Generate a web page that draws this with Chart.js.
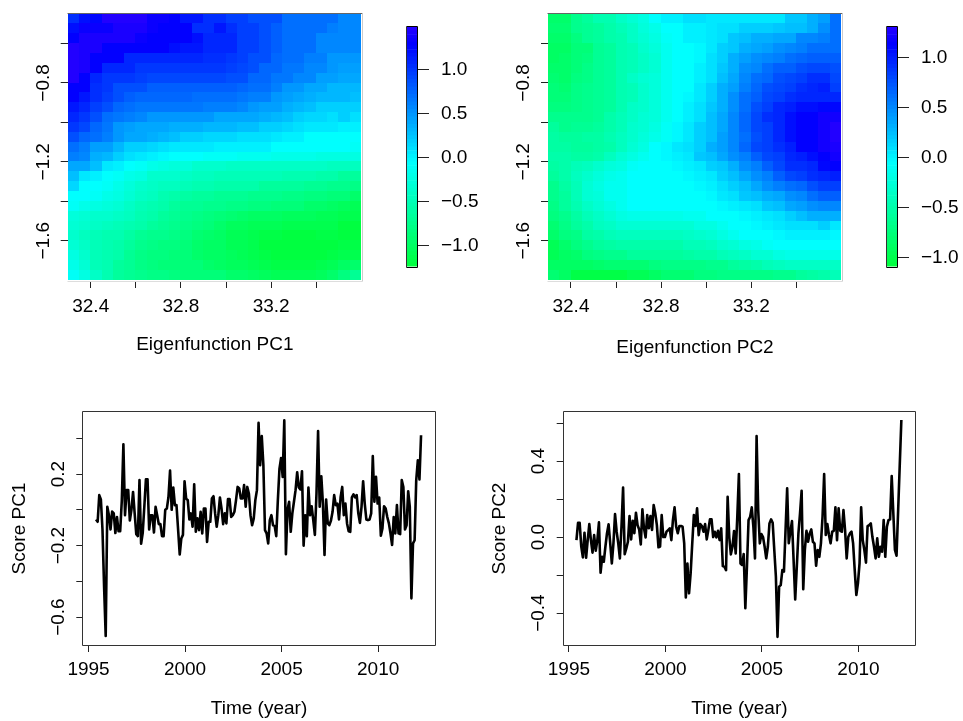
<!DOCTYPE html>
<html><head><meta charset="utf-8">
<style>html,body{margin:0;padding:0;background:#fff}canvas{position:absolute}</style>
<script src="https://cdn.jsdelivr.net/npm/chart.js@4"></script></head><body>
<canvas id="h1" style="left:0;top:0" width="385" height="360"></canvas>
<canvas id="b1" style="left:400px;top:0" width="82" height="290"></canvas>
<canvas id="h2" style="left:484px;top:0" width="380" height="360"></canvas>
<canvas id="b2" style="left:880px;top:0" width="83" height="290"></canvas>
<canvas id="s1" style="left:0;top:361px" width="460" height="360"></canvas>
<canvas id="s2" style="left:484px;top:361px" width="460" height="360"></canvas>
<script>
const lons=[32.323,32.373,32.423,32.473,32.523,32.573,32.623,32.673,32.723,32.773,32.823,32.873,32.923,32.973,33.023,33.073,33.123,33.173,33.223,33.273,33.323,33.373,33.423,33.473,33.523,33.573];
const lats=[-0.473,-0.523,-0.573,-0.623,-0.673,-0.723,-0.773,-0.823,-0.873,-0.923,-0.973,-1.023,-1.073,-1.123,-1.173,-1.223,-1.273,-1.323,-1.373,-1.423,-1.473,-1.523,-1.573,-1.623,-1.673,-1.723,-1.773];
const eigenPC1=[
[1.05,1.2,1.25,1.45,1.45,1.45,1.45,1.35,1.35,1.3,1.15,1.15,1.05,1.05,.95,.95,.85,.85,.85,.7,.7,.7,.7,.7,.55,.55],
[1.2,1.35,1.35,1.35,1.4,1.4,1.4,1.35,1.3,1.3,1.3,1.05,1.05,1.15,1.05,.95,.95,.85,.8,.7,.7,.7,.7,.6,.55,.55],
[1.3,1.4,1.4,1.4,1.4,1.4,1.35,1.3,1.3,1.3,1.3,1.2,1.1,1.1,1.1,.95,.95,.85,.8,.7,.7,.7,.55,.55,.55,.55],
[1.45,1.4,1.4,1.3,1.3,1.3,1.3,1.3,1.3,1.2,1.15,1.15,1.1,1.1,1.1,.95,.95,.85,.8,.7,.7,.7,.55,.55,.55,.55],
[1.45,1.4,1.3,1.3,1.3,1.1,1.1,1.1,1.1,1.1,1.1,1.1,1.05,1.05,1,.95,.85,.85,.75,.7,.7,.6,.6,.5,.5,.5],
[1.45,1.4,1.3,1.1,1.1,1.1,1,1,1,1,1,1,1,1,.95,.9,.85,.75,.75,.65,.65,.55,.55,.5,.45,.45],
[1.45,1.3,1.1,1,1,1,.95,.9,.9,.9,.9,.9,.9,.9,.85,.85,.75,.75,.65,.65,.55,.55,.45,.45,.4,.4],
[1.3,1.3,1.05,1,.85,.85,.85,.8,.8,.8,.8,.8,.8,.8,.8,.75,.7,.7,.6,.5,.5,.4,.4,.3,.3,.3],
[1.3,1.15,1.05,.95,.85,.8,.75,.75,.75,.75,.75,.7,.7,.7,.7,.65,.6,.6,.5,.45,.4,.35,.3,.3,.3,.25],
[1.15,1.1,.95,.85,.75,.7,.65,.65,.65,.65,.65,.65,.6,.6,.6,.55,.5,.45,.45,.35,.3,.25,.2,.2,.2,.2],
[1.1,1,.85,.7,.65,.6,.55,.5,.5,.5,.5,.5,.5,.4,.4,.4,.4,.35,.3,.25,.2,.15,.15,.1,.2,.1],
[1,.9,.75,.65,.5,.45,.4,.4,.4,.35,.35,.35,.3,.3,.3,.25,.25,.2,.2,.15,.1,.05,.05,.05,.02,.02],
[.85,.75,.7,.6,.5,.4,.4,.35,.3,.25,.2,.2,.15,.15,.15,.1,.1,.1,.05,.02,0,-.05,-.05,-.05,-.05,-.05],
[.7,.6,.45,.45,.3,.2,.2,.15,.1,.05,.05,.05,.05,.02,.02,0,0,0,-.05,-.05,-.05,-.05,-.08,-.08,-.08,-.1],
[.6,.55,.35,.3,.2,.1,.05,0,-.03,-.05,-.05,-.05,-.1,-.1,-.12,-.15,-.15,-.15,-.2,-.2,-.2,-.2,-.25,-.25,-.25,-.25],
[.4,.4,.25,.05,0,-.08,-.1,-.2,-.25,-.3,-.3,-.35,-.35,-.35,-.4,-.4,-.4,-.4,-.4,-.4,-.4,-.4,-.4,-.45,-.45,-.45],
[.25,.05,0,-.08,-.1,-.18,-.25,-.35,-.35,-.35,-.4,-.45,-.45,-.5,-.5,-.5,-.5,-.5,-.5,-.55,-.55,-.55,-.6,-.6,-.65,-.65],
[.15,-.05,-.07,-.1,-.2,-.3,-.35,-.4,-.45,-.45,-.5,-.55,-.55,-.6,-.6,-.6,-.6,-.65,-.65,-.65,-.65,-.7,-.7,-.75,-.75,-.8],
[-.05,-.08,-.12,-.2,-.25,-.32,-.42,-.47,-.52,-.58,-.62,-.65,-.68,-.7,-.7,-.7,-.75,-.75,-.75,-.8,-.8,-.85,-.85,-.9,-.9,-.95],
[-.12,-.2,-.22,-.28,-.32,-.4,-.5,-.55,-.6,-.65,-.7,-.7,-.75,-.75,-.8,-.8,-.85,-.85,-.9,-.9,-.9,-.95,-.95,-1,-1.05,-1.1],
[-.27,-.32,-.35,-.38,-.4,-.45,-.55,-.6,-.65,-.7,-.75,-.8,-.85,-.88,-.92,-.95,-1,-1,-1,-1.05,-1.05,-1.05,-1.1,-1.1,-1.15,-1.15],
[-.33,-.38,-.42,-.45,-.5,-.55,-.6,-.65,-.7,-.75,-.8,-.85,-.9,-.95,-1.05,-1.05,-1.1,-1.1,-1.1,-1.15,-1.15,-1.15,-1.15,-1.15,-1.2,-1.2],
[-.38,-.45,-.5,-.55,-.55,-.62,-.72,-.75,-.75,-.8,-.85,-.92,-.98,-1,-1.08,-1.1,-1.15,-1.18,-1.18,-1.2,-1.2,-1.2,-1.18,-1.18,-1.2,-1.2],
[-.32,-.42,-.5,-.55,-.6,-.65,-.75,-.8,-.85,-.85,-.9,-.95,-1,-1,-1.1,-1.1,-1.15,-1.2,-1.22,-1.22,-1.22,-1.22,-1.2,-1.2,-1.18,-1.18],
[-.25,-.38,-.48,-.55,-.6,-.7,-.8,-.85,-.85,-.9,-.9,-.95,-1,-1,-1.05,-1.1,-1.15,-1.18,-1.22,-1.22,-1.22,-1.22,-1.22,-1.18,-1.12,-1.12],
[-.2,-.32,-.48,-.55,-.65,-.7,-.8,-.85,-.9,-.9,-.9,-.9,-.95,-1,-1.05,-1.05,-1.1,-1.15,-1.18,-1.18,-1.18,-1.18,-1.15,-1.1,-1,-.95],
[-.1,-.25,-.42,-.55,-.65,-.7,-.75,-.8,-.8,-.85,-.9,-.9,-.9,-.9,-.95,-.95,-1,-1.05,-1.08,-1.08,-1.08,-1.08,-1.05,-.95,-.85,-.7]
];
const eigenPC2=[
[-.85,-.85,-.68,-.58,-.48,-.48,-.38,-.28,-.2,-.08,0,0,.1,.1,.05,.05,.05,.05,.05,.05,.05,.2,.2,.3,.4,.6],
[-.82,-.82,-.68,-.62,-.58,-.52,-.45,-.35,-.25,-.18,-.08,-.05,0,0,.05,.1,.1,.15,.15,.15,.2,.25,.25,.3,.45,.6],
[-.85,-.85,-.72,-.64,-.6,-.52,-.48,-.38,-.28,-.2,-.1,-.08,0,0,.05,.1,.2,.25,.3,.3,.35,.35,.5,.5,.55,.6],
[-.88,-.88,-.78,-.78,-.62,-.57,-.48,-.42,-.33,-.26,-.15,-.08,-.08,-.03,.05,.15,.2,.3,.35,.4,.45,.5,.55,.6,.6,.6],
[-.88,-.85,-.78,-.75,-.62,-.57,-.48,-.42,-.35,-.28,-.15,-.08,-.08,-.03,.1,.15,.3,.4,.45,.5,.55,.6,.65,.7,.7,.7],
[-.85,-.85,-.78,-.7,-.62,-.57,-.48,-.42,-.35,-.3,-.15,-.08,-.05,0,.1,.2,.3,.45,.5,.6,.7,.7,.75,.8,.8,.75],
[-.82,-.85,-.75,-.7,-.64,-.57,-.48,-.38,-.3,-.25,-.15,-.08,-.05,0,.1,.25,.35,.5,.6,.65,.75,.8,.85,.9,.9,.8],
[-.78,-.82,-.7,-.67,-.64,-.6,-.48,-.42,-.33,-.25,-.15,-.08,-.05,.05,.15,.3,.4,.55,.65,.75,.8,.85,.9,.95,1,.85],
[-.78,-.78,-.7,-.67,-.62,-.6,-.48,-.42,-.33,-.25,-.15,-.08,-.03,.05,.15,.3,.45,.6,.7,.8,.85,.9,.95,.95,.95,.95],
[-.72,-.72,-.7,-.67,-.62,-.57,-.48,-.38,-.32,-.25,-.15,-.08,0,.1,.2,.3,.45,.6,.75,.85,.95,1,1.05,1.05,1.1,1.1],
[-.65,-.68,-.66,-.66,-.62,-.52,-.43,-.38,-.3,-.25,-.15,-.05,0,.1,.25,.35,.5,.65,.8,.9,.95,1.05,1.15,1.15,1.2,1.2],
[-.6,-.65,-.64,-.62,-.57,-.52,-.43,-.33,-.28,-.2,-.1,-.03,.05,.15,.25,.35,.5,.65,.8,.85,.95,1.05,1.15,1.15,1.2,1.3],
[-.55,-.6,-.58,-.54,-.54,-.48,-.4,-.33,-.25,-.16,-.1,-.03,.05,.15,.25,.4,.5,.6,.75,.85,.95,1.05,1.15,1.15,1.2,1.3],
[-.55,-.55,-.6,-.6,-.55,-.5,-.4,-.3,-.22,-.08,-.03,.05,.1,.15,.3,.4,.5,.65,.8,.85,.9,1,1.15,1.15,1.2,1.25],
[-.5,-.5,-.55,-.55,-.5,-.4,-.3,-.22,-.15,-.08,-.03,0,.05,.2,.25,.35,.45,.55,.7,.8,.85,.95,1,1.05,1.15,1.2],
[-.55,-.5,-.45,-.4,-.33,-.25,-.2,-.1,-.08,-.06,-.06,-.03,0,.05,.15,.2,.3,.45,.55,.7,.8,.9,.9,.95,1.1,1.15],
[-.6,-.5,-.4,-.33,-.25,-.18,-.12,-.08,-.08,-.08,-.08,-.06,-.03,0,.05,.15,.25,.35,.45,.55,.7,.8,.85,.9,.95,1],
[-.65,-.55,-.42,-.3,-.2,-.12,-.12,-.08,-.08,-.08,-.08,-.08,-.06,-.03,0,.1,.15,.25,.35,.45,.55,.6,.65,.75,.85,.85],
[-.65,-.6,-.42,-.3,-.25,-.12,-.12,-.08,-.08,-.08,-.08,-.08,-.08,-.06,-.03,.05,.1,.2,.25,.3,.35,.45,.5,.6,.7,.7],
[-.7,-.6,-.48,-.38,-.28,-.2,-.12,-.08,-.08,-.08,-.08,-.08,-.08,-.08,-.07,-.03,0,.05,.1,.2,.25,.35,.4,.45,.5,.5],
[-.75,-.65,-.55,-.45,-.35,-.28,-.22,-.18,-.18,-.18,-.18,-.18,-.15,-.12,-.08,-.07,-.05,-.03,0,.05,.1,.15,.25,.3,.3,.3],
[-.8,-.7,-.6,-.5,-.4,-.35,-.3,-.3,-.3,-.3,-.3,-.3,-.28,-.22,-.2,-.15,-.08,-.07,-.03,0,.05,.1,.1,.1,.15,.05],
[-.85,-.75,-.7,-.55,-.5,-.45,-.4,-.4,-.4,-.4,-.4,-.4,-.38,-.33,-.28,-.22,-.15,-.08,-.07,-.06,-.03,0,0,0,0,-.03],
[-.95,-.85,-.75,-.65,-.6,-.55,-.5,-.5,-.5,-.5,-.5,-.5,-.45,-.45,-.4,-.33,-.28,-.22,-.18,-.1,-.07,-.07,-.07,-.07,-.07,-.07],
[-.95,-.9,-.85,-.75,-.7,-.65,-.65,-.6,-.6,-.6,-.6,-.6,-.55,-.5,-.5,-.45,-.4,-.35,-.3,-.28,-.22,-.18,-.18,-.18,-.18,-.18],
[-.9,-.9,-.9,-.9,-.85,-.8,-.8,-.8,-.8,-.75,-.7,-.7,-.7,-.7,-.65,-.65,-.6,-.55,-.5,-.45,-.4,-.35,-.35,-.35,-.35,-.35],
[-.8,-.9,-1.05,-1.05,-1.05,-1.05,-1.05,-.95,-.95,-.9,-.8,-.8,-.8,-.75,-.75,-.7,-.7,-.7,-.7,-.7,-.65,-.65,-.6,-.55,-.5,-.45]
];
const scorePC1=[-.054,-.067,.082,.058,-.11,-.43,-.706,.017,-.03,-.11,-.01,-.02,-.13,-.04,-.12,-.12,.05,.367,-.03,.11,.11,-.06,0,.1,-.02,-.136,-.147,.166,-.19,-.13,.017,.17,.17,-.11,-.03,-.03,-.127,.017,-.03,-.08,-.08,-.147,-.147,0,.007,.07,.22,0,.125,.026,.026,-.11,-.25,-.16,-.14,.16,.063,.054,-.054,-.02,-.095,.143,-.123,-.048,-.114,-.011,-.132,.007,.007,-.18,-.067,-.067,.063,.076,-.02,-.095,-.03,.069,.007,-.08,-.02,-.076,.06,.06,-.04,-.03,-.011,.054,.128,.119,.063,.063,.138,.017,.128,.09,-.03,-.086,-.05,.054,.11,.486,.25,.413,.25,-.114,-.132,-.188,-.058,-.03,-.086,-.09,-.147,.054,.23,.29,.184,.5,-.248,0,.045,-.123,-.02,.045,.11,.21,.125,.114,.216,-.2,-.03,-.147,.125,-.03,.02,-.058,-.14,.09,.44,.017,.188,.035,-.253,.058,-.076,-.086,-.06,-.011,.082,.026,.035,-.054,.07,.128,-.03,.035,-.076,-.12,-.123,.07,.086,.07,.082,-.02,-.073,.017,.16,.035,-.054,-.058,-.054,-.02,.3,.045,.184,.035,.069,-.145,-.104,.02,.007,-.04,-.076,-.132,-.197,-.04,-.132,.026,-.132,-.136,.166,.128,-.11,-.086,.104,.017,-.495,-.188,-.17,.166,.277,.17,.417];
const scorePC2=[-.016,.075,.075,-.05,-.107,.023,-.109,-.016,.068,-.016,-.082,.01,-.072,-.016,.077,-.188,-.104,-.13,-.051,.02,.067,-.033,-.139,-.033,.121,.028,-.033,-.112,.054,.261,-.09,-.06,-.025,.11,-.012,.086,.02,.128,.063,.04,-.039,.146,.046,-.002,.116,.046,.11,.037,.168,.125,.063,-.054,-.05,.116,0,0,.028,.037,.046,-.016,.09,.156,.054,.02,.058,.058,.054,-.033,-.318,-.139,-.296,-.19,-.033,.116,.058,.151,.01,.068,.058,.028,.068,-.012,.037,.093,.093,0,.028,-.002,.033,-.016,.046,-.153,-.156,-.174,.212,0,-.091,-.051,.032,-.086,.107,.332,-.139,-.147,-.089,-.375,-.156,.089,.107,.156,.054,-.112,.532,.142,-.033,.016,0,-.051,-.112,-.051,.072,.093,.075,-.068,-.209,-.525,-.261,-.253,-.174,-.182,.037,.256,-.033,.028,.084,-.121,-.328,-.156,.019,.125,.244,-.275,-.068,.033,-.025,.019,.04,-.025,-.033,-.151,-.068,-.104,-.033,.107,.332,.011,.068,.011,-.033,.028,.033,.156,-.016,.151,.033,.028,.142,.037,-.112,0,.019,.028,-.033,-.174,-.305,-.244,-.139,.156,-.016,-.068,-.135,.058,.063,.072,0,-.051,-.112,-.007,-.104,-.051,-.077,.089,-.104,.054,.089,.093,.321,.125,-.068,-.098,.14,.38,.616];
const startYear=1995.39;
const yearTicks=[1995,2000,2005,2010];
const lonTicks=[32.4,32.6,32.8,33,33.2,33.4];
const lonLabels=['32.4','','32.8','','33.2',''];
const latTicks=[-0.6,-0.8,-1,-1.2,-1.4,-1.6];
const latLabels=['','\u22120.8','','\u22121.2','','\u22121.6'];
const s1Ticks=[0.4,0.2,0,-0.2,-0.4,-0.6];
const s1Labels=['','0.2','','\u22120.2','','\u22120.6'];
const s2Ticks=[0.6,0.4,0.2,0,-0.2,-0.4];
const s2Labels=['','0.4','','0.0','','\u22120.4'];
const barTicks=[1,0.5,0,-0.5,-1];
const barLabels=['1.0','0.5','0.0','\u22120.5','\u22121.0'];
const zlim1=[-1.242,1.485], zlim2=[-1.093,1.307];
const LEVELS=64, FS=19, FONT='"Liberation Sans", Arial, sans-serif';

function ramp(k){
  const f=k/(LEVELS-1);
  const h=f<0.43?135+45*f/0.43:180+68*(f-0.43)/0.57;
  let r=0,g=255,b=0;
  if(h<=180){b=(h-120)/60*255;}
  else if(h<=240){b=255;g=(240-h)/60*255;}
  else {b=255;g=0;r=(h-240)/60*255;}
  return `rgb(${Math.round(r)},${Math.round(g)},${Math.round(b)})`;
}
function colorOf(v,z){
  const k=Math.floor((v-z[0])/(z[1]-z[0])*LEVELS);
  return ramp(Math.max(0,Math.min(LEVELS-1,k)));
}
const cellsPlugin={id:'cells',beforeDatasetsDraw(c,a,o){
  if(!o.zlim)return;
  const {x,y}=c.scales,d=c.data.datasets[0].data,ctx=c.ctx,ar=c.chartArea;
  ctx.save();
  d.forEach(p=>{
    const x0=Math.round(x.getPixelForValue(p.x-o.dx/2)),x1=Math.round(x.getPixelForValue(p.x+o.dx/2));
    const y0=Math.round(y.getPixelForValue(p.y+o.dy/2)),y1=Math.round(y.getPixelForValue(p.y-o.dy/2));
    const L=Math.max(x0,Math.round(ar.left)),R=Math.min(x1,Math.round(ar.right)),T=Math.max(y0,Math.round(ar.top)),B=Math.min(y1,Math.round(ar.bottom));
    ctx.fillStyle=colorOf(p.v,o.zlim);
    ctx.fillRect(L,T,R-L,B-T);
  });
  ctx.restore();
}};
const framePlugin={id:'frame',afterDraw(c,a,o){
  if(!o.sides)return;
  const {left:l,right:r,top:t,bottom:b}=c.chartArea,ctx=c.ctx;
  ctx.save();ctx.lineWidth=o.width||1;
  const line=(col,x0,y0,x1,y1)=>{ctx.strokeStyle=col;ctx.beginPath();ctx.moveTo(x0,y0);ctx.lineTo(x1,y1);ctx.stroke();};
  const T=Math.round(t)-.5,B=Math.round(b)+.5,L=Math.round(l)-.5,R=Math.round(r)+.5;
  line(o.sides.top,L,T,R,T);line(o.sides.right,R,T,R,B);line(o.sides.bottom,L,B,R,B);line(o.sides.left,L,T,L,B);
  ctx.restore();
}};
Chart.register(cellsPlugin,framePlugin);
Chart.defaults.font.family=FONT;Chart.defaults.font.size=FS;Chart.defaults.color='#000';

function xAxis(min,max,ticks,labels,title,titlePad,h,tickPad){
  return {type:'linear',min,max,afterBuildTicks:s=>{s.ticks=ticks.map(v=>({value:v}));},
    afterFit:s=>{s.height=h;},
    border:{display:false},grid:{drawOnChartArea:false,drawTicks:true,tickLength:7,color:'#222',lineWidth:1},
    ticks:{autoSkip:false,maxRotation:0,minRotation:0,padding:tickPad,color:'#000',font:{size:FS},
      callback:(v)=>{const i=ticks.indexOf(v);return i<0?'':labels[i];}},
    title:{display:true,text:title,color:'#000',font:{size:FS,lineHeight:1.2},padding:{top:0,bottom:titlePad}}};
}
function yAxis(min,max,ticks,labels,w,tickPad,title,titlePad){
  return {type:'linear',min,max,afterBuildTicks:s=>{s.ticks=ticks.map(v=>({value:v}));},
    afterFit:s=>{s.width=w;},
    border:{display:false},grid:{drawOnChartArea:false,drawTicks:true,tickLength:7,color:'#222',lineWidth:1},
    ticks:{autoSkip:false,minRotation:90,maxRotation:90,crossAlign:'center',padding:tickPad,color:'#000',font:{size:FS},
      callback:(v)=>{const i=ticks.indexOf(v);return i<0?'':labels[i];}},
    title:title?{display:true,text:title,color:'#000',font:{size:FS,lineHeight:1.2},padding:{top:titlePad,bottom:0}}:{display:false}};
}
function heat(id,rows,zlim,title,padR,yW,titlePad){
  const pts=[];
  rows.forEach((row,j)=>row.forEach((v,i)=>pts.push({x:lons[i],y:lats[j],v})));
  new Chart(document.getElementById(id),{type:'scatter',
    data:{datasets:[{label:title,data:pts,pointRadius:0,showLine:false}]},
    options:{responsive:false,animation:false,devicePixelRatio:1,
      layout:{padding:{top:13.5,right:padR,left:0,bottom:0}},
      plugins:{legend:{display:false},tooltip:{enabled:false},cells:{zlim,dx:0.05,dy:0.05},
        frame:{sides:{top:'#666',right:'#ccc',bottom:'#ddd',left:'rgba(0,0,0,0)'}}},
      scales:{x:xAxis(32.298,33.603,lonTicks,lonLabels,title,titlePad,79,7.5),
              y:yAxis(-1.804,-0.448,latTicks,latLabels,yW,-1.5)}}});
}
function bar(id,zlim,ticks,padL,w){
  const step=(zlim[1]-zlim[0])/LEVELS,ds=[];
  for(let k=0;k<LEVELS;k++)ds.push({data:[[zlim[0]+k*step,zlim[0]+(k+1)*step]],backgroundColor:ramp(k),barPercentage:1,categoryPercentage:1,borderWidth:0});
  new Chart(document.getElementById(id),{type:'bar',
    data:{labels:['scale'],datasets:ds},
    options:{responsive:false,animation:false,devicePixelRatio:1,
      layout:{padding:{top:27,bottom:23,left:padL,right:0}},
      plugins:{legend:{display:false},tooltip:{enabled:false},frame:{sides:{top:'#000',right:'#000',bottom:'#000',left:'#333'}}},
      scales:{x:{display:false,stacked:true},
        y:{position:'right',min:zlim[0],max:zlim[1],afterBuildTicks:s=>{s.ticks=ticks.map(v=>({value:v}));},
          afterFit:s=>{s.width=w;},border:{display:false},
          grid:{drawOnChartArea:false,drawTicks:true,tickLength:12,color:'#222',lineWidth:1},
          ticks:{padding:12,color:'#000',font:{size:FS},autoSkip:false,
            callback:(v)=>barLabels[ticks.indexOf(v)]}}}}});
}
function series(id,vals,ymin,ymax,yt,yl,yW,padR,title,titlePad){
  const pts=vals.map((v,i)=>({x:startYear+i/12,y:v}));
  new Chart(document.getElementById(id),{type:'line',
    data:{datasets:[{label:title,data:pts,borderColor:'#000',borderWidth:2.6,pointRadius:0,tension:0,fill:false,borderJoinStyle:'round'}]},
    options:{responsive:false,animation:false,devicePixelRatio:1,parsing:false,
      layout:{padding:{top:51,right:padR,left:0,bottom:0}},
      plugins:{legend:{display:false},tooltip:{enabled:false},
        frame:{sides:{top:'#333',right:'#333',bottom:'#333',left:'#333'}}},
      scales:{x:xAxis(1994.73,2012.93,yearTicks,yearTicks.map(String),'Time (year)',0.6,76,6),
              y:yAxis(ymin,ymax,yt,yl,yW,-1,title,titlePad)}}});
}
heat('h1',eigenPC1,zlim1,'Eigenfunction PC1',23,67.7,3.6);
heat('h2',eigenPC2,zlim2,'Eigenfunction PC2',22,64,0.6);
bar('b1',zlim1,barTicks,6.5,65);
bar('b2',zlim2,barTicks,6.5,66);
series('s1',scorePC1,-0.756,0.547,s1Ticks,s1Labels,83.3,25.3,'Score PC1',8.6);
series('s2',scorePC2,-0.568,0.658,s2Ticks,s2Labels,79.7,29,'Score PC2',4.6);
</script></body></html>
